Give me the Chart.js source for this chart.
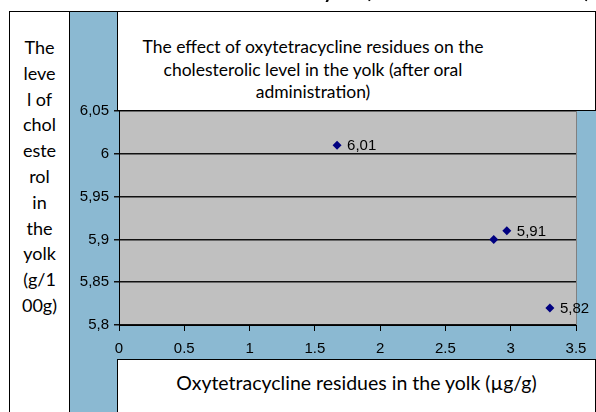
<!DOCTYPE html>
<html>
<head>
<meta charset="utf-8">
<script src="https://cdn.jsdelivr.net/npm/chart.js@4"></script>
<style>
html, body { margin: 0; padding: 0; background: #fff; }
#wrap { position: relative; width: 596px; height: 412px; overflow: hidden; }
.panel { position: absolute; left: 69px; top: 11px; width: 540px; height: 420px; background: #8BB9D2; border-top: 1px solid #000; box-sizing: border-box; z-index: 0; }
canvas { position: absolute; left: 0; top: 0; z-index: 1; }
.box { position: absolute; box-sizing: border-box; background: #fff; border: 1px solid #000; z-index: 2; font-family: Lato, "Open Sans", sans-serif; color: #000; }
.cut { position: absolute; right: 6px; top: -22px; font: bold 20px Lato, sans-serif; white-space: nowrap; z-index: 3; }
</style>
</head>
<body>
<div id="wrap">
    <div class="cut">level in the yolk (after oral administration)</div>
    <div class="panel"></div>
    <canvas id="chart" width="596" height="412"></canvas>

    <!-- y axis title -->
    <div class="box" style="left:9px;top:11px;width:61px;height:420px;">
        <div style="position:absolute;left:0;right:0;top:23px;text-align:center;font-size:18px;line-height:25.8px">
            The<br>leve<br>l of<br>chol<br>este<br>rol<br>in<br>the<br>yolk<br>(g/1<br>00g)
        </div>
    </div>

    <!-- chart title -->
    <div class="box" style="left:117px;top:11px;width:479px;height:100px;">
        <div style="position:absolute;left:0;width:390px;top:24px;text-align:center;font-size:17.5px;line-height:22.5px">
            The effect of oxytetracycline residues on the<br>cholesterolic level in the yolk (after oral<br>administration)
        </div>
    </div>

    <!-- x axis title -->
    <div class="box" style="left:117px;top:359px;width:479px;height:70px;">
        <div style="position:absolute;left:0;right:0;top:12px;text-align:center;font-size:19.5px;line-height:22px">
            Oxytetracycline residues in the yolk (µg/g)
        </div>
    </div>
</div>

<script>
// residues in yolk (µg/g) vs cholesterol (g/100g)
const residues = [1.67, 2.87, 2.97, 3.30];
const cholesterol = [6.01, 5.90, 5.91, 5.82];
const pointLabels = ['6,01', '', '5,91', '5,82'];

const X_MIN = 0, X_MAX = 3.5, X_STEP = 0.5;
const Y_MIN = 5.8, Y_MAX = 6.05, Y_STEP = 0.05;

const tickFont = { family: '"Liberation Sans", Arial, sans-serif', size: 15 };

const plotBg = {
    id: 'plotBg',
    beforeDraw(chart) {
        const { ctx, chartArea: a } = chart;
        ctx.save();
        ctx.fillStyle = '#C0C0C0';
        ctx.fillRect(a.left, a.top, a.right - a.left, a.bottom - a.top);
        ctx.strokeStyle = '#808080';
        ctx.lineWidth = 1;
        ctx.beginPath();
        ctx.moveTo(Math.round(a.right) + 0.5, a.top);
        ctx.lineTo(Math.round(a.right) + 0.5, a.bottom);
        ctx.stroke();
        ctx.restore();
    }
};

const valueLabels = {
    id: 'valueLabels',
    afterDatasetsDraw(chart) {
        const ctx = chart.ctx;
        const meta = chart.getDatasetMeta(0);
        ctx.save();
        ctx.font = '15px "Liberation Sans", Arial, sans-serif';
        ctx.fillStyle = '#000';
        ctx.textBaseline = 'middle';
        meta.data.forEach((pt, i) => {
            if (!pointLabels[i]) return;
            ctx.fillText(pointLabels[i], pt.x + 10, pt.y + 1);
        });
        ctx.restore();
    }
};

new Chart(document.getElementById('chart'), {
    type: 'scatter',
    data: {
        datasets: [{
            data: residues.map((x, i) => ({ x, y: cholesterol[i] })),
            pointStyle: 'rectRot',
            pointRadius: 4.5,
            pointHoverRadius: 4.5,
            backgroundColor: '#000080',
            borderColor: '#000080',
            borderWidth: 0,
        }]
    },
    options: {
        responsive: false,
        animation: false,
        layout: { padding: { left: 69, right: 20, top: 111, bottom: 0 } },
        plugins: { legend: { display: false }, tooltip: { enabled: false } },
        scales: {
            x: {
                type: 'linear',
                min: X_MIN, max: X_MAX,
                ticks: { stepSize: X_STEP, color: '#000', font: tickFont, padding: 9, maxRotation: 0,
                    callback: v => String(v) },
                grid: { drawOnChartArea: false, drawTicks: true, tickLength: 6, color: '#000' },
                border: { color: '#000', width: 1 },
                afterFit: s => { s.height = 87; }
            },
            y: {
                min: Y_MIN, max: Y_MAX,
                ticks: { stepSize: Y_STEP, color: '#000', font: tickFont, padding: 5,
                    callback: v => String(+v.toFixed(2)).replace('.', ',') },
                grid: { color: '#111', lineWidth: 1.5, tickLength: 5 },
                border: { color: '#000', width: 1 },
                afterFit: s => { s.width = 50; }
            }
        }
    },
    plugins: [plotBg, valueLabels]
});
</script>
</body>
</html>
